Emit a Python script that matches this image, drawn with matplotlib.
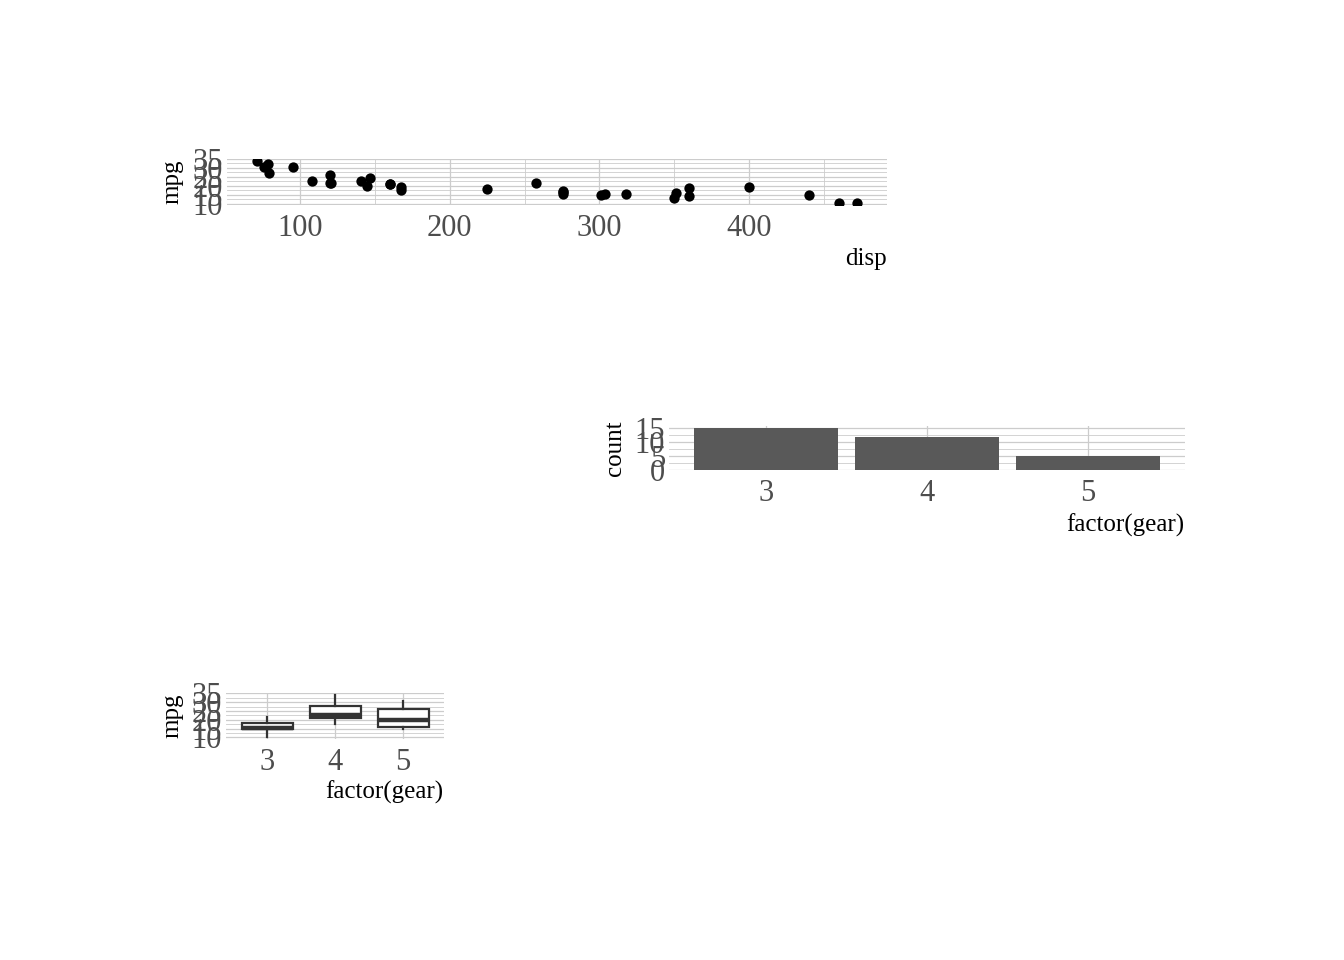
import matplotlib
matplotlib.use("Agg")
import matplotlib.pyplot as plt
import numpy as np

# mtcars columns used in the three panels
mpg = [21.0, 21.0, 22.8, 21.4, 18.7, 18.1, 14.3, 24.4, 22.8, 19.2, 17.8, 16.4,
       17.3, 15.2, 10.4, 10.4, 14.7, 32.4, 30.4, 33.9, 21.5, 15.5, 15.2, 13.3,
       19.2, 27.3, 26.0, 30.4, 15.8, 19.7, 15.0, 21.4]
disp = [160, 160, 108, 258, 360, 225, 360, 146.7, 140.8, 167.6, 167.6, 275.8,
        275.8, 275.8, 472, 460, 440, 78.7, 75.7, 71.1, 120.1, 318, 304, 350,
        400, 79, 120.3, 95.1, 351, 145, 301, 121]
gear = [4, 4, 4, 3, 3, 3, 3, 4, 4, 4, 4, 3, 3, 3, 3, 3, 3, 4, 4, 4, 3, 3, 3, 3,
        3, 4, 5, 5, 5, 5, 5, 4]
gear_levels = [3, 4, 5]

plt.rcParams['font.family'] = ['Liberation Serif', 'DejaVu Serif']

W, H = 1344, 960
fig = plt.figure(figsize=(W / 100, H / 100), dpi=100)

GRID = "#cccccc"
TICK = "#4d4d4d"
TICK_SIZE = 22
TITLE_SIZE = 18


def px_axes(l, t, r, b):
    return fig.add_axes([l / W, 1 - b / H, (r - l) / W, (b - t) / H])


def style(ax):
    for s in ax.spines.values():
        s.set_visible(False)
    ax.set_axisbelow(True)
    ax.tick_params(which="both", length=0, labelsize=TICK_SIZE, labelcolor=TICK)
    ax.tick_params(axis="x", pad=6.5)
    ax.tick_params(axis="y", pad=3)
    ax.grid(which="major", color=GRID, lw=0.9)
    ax.grid(which="minor", color=GRID, lw=0.6)


def padded(lo, hi, frac=0.05):
    d = (hi - lo) * frac
    return lo - d, hi + d


mpg_lim = padded(min(mpg), max(mpg))
mpg_ticks = [10, 15, 20, 25, 30, 35]
mpg_minor = [12.5, 17.5, 22.5, 27.5, 32.5]

# ---- panel 1: scatter ------------------------------------------------------
ax1 = px_axes(226.8, 158.9, 886.7, 204.9)
style(ax1)
ax1.scatter(disp, mpg, s=55, color="black", zorder=3, linewidths=0)
ax1.set_xlim(padded(min(disp), max(disp)))
ax1.set_ylim(mpg_lim)
ax1.set_xticks([100, 200, 300, 400])
ax1.set_xticks([150, 250, 350, 450], minor=True)
ax1.set_yticks(mpg_ticks)
ax1.set_yticks(mpg_minor, minor=True)
ax1.set_xlabel("disp", fontsize=TITLE_SIZE, loc="right", labelpad=4)
ax1.set_ylabel("mpg", fontsize=TITLE_SIZE, labelpad=6)

# ---- panel 2: bar of counts -----------------------------------------------
counts = [gear.count(g) for g in gear_levels]
pos = np.arange(1, len(gear_levels) + 1)
ax2 = px_axes(669.4, 426.2, 1184.6, 470.0)
style(ax2)
ax2.bar(pos, counts, width=0.9, color="#595959", zorder=3)
ax2.set_xlim(0.4, 3.6)
ax2.set_ylim(0, max(counts) * 1.05)
ax2.set_xticks(pos)
ax2.set_xticklabels([str(g) for g in gear_levels])
ax2.set_yticks([0, 5, 10, 15])
ax2.set_yticks([2.5, 7.5, 12.5], minor=True)
ax2.set_xlabel("factor(gear)", fontsize=TITLE_SIZE, loc="right", labelpad=4)
ax2.set_ylabel("count", fontsize=TITLE_SIZE, labelpad=6)

# ---- panel 3: boxplot -----------------------------------------------------
groups = [[m for m, g in zip(mpg, gear) if g == lv] for lv in gear_levels]
ax3 = px_axes(226.2, 693.2, 443.8, 738.7)
style(ax3)
ax3.boxplot(groups, positions=pos, widths=0.75, patch_artist=True,
            showcaps=False, whis=1.5,
            boxprops=dict(facecolor="white", edgecolor="#333333", lw=1.6),
            whiskerprops=dict(color="#333333", lw=1.6),
            medianprops=dict(color="#333333", lw=3.2),
            flierprops=dict(marker="o", markerfacecolor="#333333",
                            markeredgecolor="#333333", markersize=4),
            zorder=3)
ax3.set_xlim(0.4, 3.6)
ax3.set_ylim(mpg_lim)
ax3.set_xticks(pos)
ax3.set_xticklabels([str(g) for g in gear_levels])
ax3.set_yticks(mpg_ticks)
ax3.set_yticks(mpg_minor, minor=True)
ax3.set_xlabel("factor(gear)", fontsize=TITLE_SIZE, loc="right", labelpad=3)
ax3.set_ylabel("mpg", fontsize=TITLE_SIZE, labelpad=6)

fig.savefig("out.png", dpi=100, facecolor="white")
